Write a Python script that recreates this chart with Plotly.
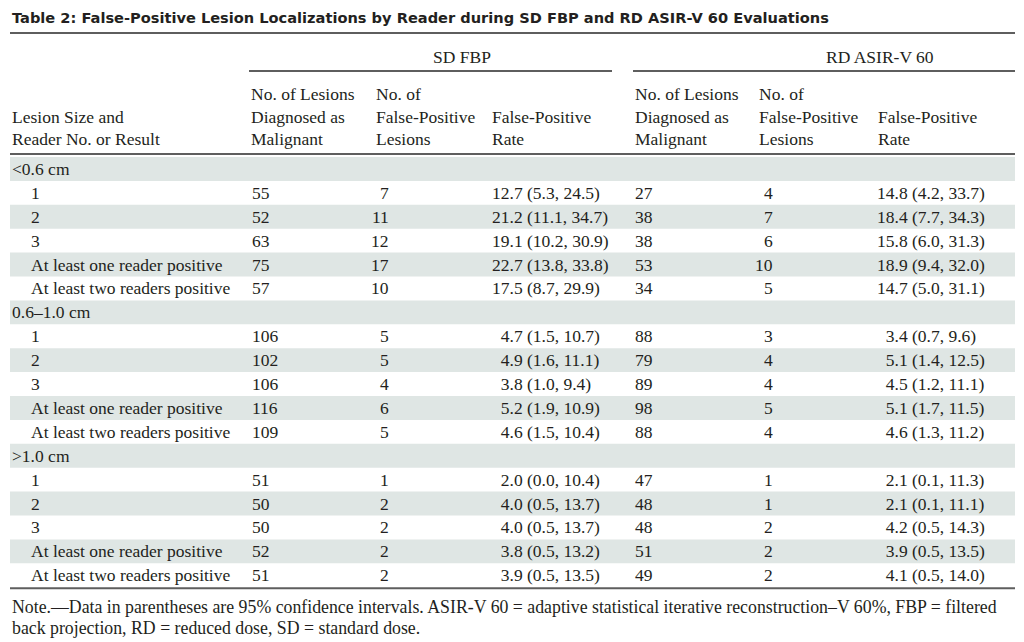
import plotly.graph_objects as go

# ---------------- data ----------------
title = "Table 2: False-Positive Lesion Localizations by Reader during SD FBP and RD ASIR-V 60 Evaluations"
group_labels = ["SD FBP", "RD ASIR-V 60"]
first_col_header = ["Lesion Size and", "Reader No. or Result"]
sub_headers = [
    ["No. of Lesions", "Diagnosed as", "Malignant"],
    ["No. of", "False-Positive", "Lesions"],
    ["False-Positive", "Rate"],
]
sections = ["<0.6 cm", "0.6–1.0 cm", ">1.0 cm"]
row_labels = ["1", "2", "3", "At least one reader positive", "At least two readers positive"]

sd_malignant = [[55, 52, 63, 75, 57], [106, 102, 106, 116, 109], [51, 50, 50, 52, 51]]
sd_fp = [[7, 11, 12, 17, 10], [5, 5, 4, 6, 5], [1, 2, 2, 2, 2]]
sd_rate = [
    ["12.7 (5.3, 24.5)", "21.2 (11.1, 34.7)", "19.1 (10.2, 30.9)", "22.7 (13.8, 33.8)", "17.5 (8.7, 29.9)"],
    ["4.7 (1.5, 10.7)", "4.9 (1.6, 11.1)", "3.8 (1.0, 9.4)", "5.2 (1.9, 10.9)", "4.6 (1.5, 10.4)"],
    ["2.0 (0.0, 10.4)", "4.0 (0.5, 13.7)", "4.0 (0.5, 13.7)", "3.8 (0.5, 13.2)", "3.9 (0.5, 13.5)"],
]
rd_malignant = [[27, 38, 38, 53, 34], [88, 79, 89, 98, 88], [47, 48, 48, 51, 49]]
rd_fp = [[4, 7, 6, 10, 5], [3, 4, 4, 5, 4], [1, 1, 2, 2, 2]]
rd_rate = [
    ["14.8 (4.2, 33.7)", "18.4 (7.7, 34.3)", "15.8 (6.0, 31.3)", "18.9 (9.4, 32.0)", "14.7 (5.0, 31.1)"],
    ["3.4 (0.7, 9.6)", "5.1 (1.4, 12.5)", "4.5 (1.2, 11.1)", "5.1 (1.7, 11.5)", "4.6 (1.3, 11.2)"],
    ["2.1 (0.1, 11.3)", "2.1 (0.1, 11.1)", "4.2 (0.5, 14.3)", "3.9 (0.5, 13.5)", "4.1 (0.5, 14.0)"],
]
note_lines = [
    "Note.—Data in parentheses are 95% confidence intervals. ASIR-V 60 = adaptive statistical iterative reconstruction–V 60%, FBP = filtered",
    "back projection, RD = reduced dose, SD = standard dose.",
]

# ---------------- layout / style ----------------
W, H = 1024, 642
LEFT, RIGHT = 10, 1015
SERIF = "Liberation Serif"
TXT = "#231f20"
LINE = "#5e5e5e"
STRIPE = "#dfe6e4"
FS = 17.5

col_x = {"lab": 10, "sdm": 250, "sdf": 391, "sdr": 490, "rdm": 633, "rdf": 775, "rdr": 875}
hdr_x = [249, 374, 490, 633, 757, 876]
group_span = [(249, 612), (633, 1015)]

body_top = 157
pitch = 23.9

shapes = []
annotations = []


def hline(x0, x1, y, w=2):
    shapes.append(dict(type="line", x0=x0, x1=x1, y0=y, y1=y, xref="x", yref="y",
                       line=dict(color=LINE, width=w)))


def text(x, y, s, anchor="left", size=FS, family=SERIF, bold=False, color=TXT):
    annotations.append(dict(x=x, y=y, xref="x", yref="y", text=("<b>%s</b>" % s) if bold else s,
                            showarrow=False, xanchor=anchor, yanchor="middle",
                            font=dict(family=family, size=size, color=color)))


def pad_rate(s):
    # decimal alignment: pad single-digit leading values with a figure space
    lead = s.split(".")[0]
    return ("\u2007" if len(lead) == 1 else "") + s


# title
text(LEFT, 17, title, size=14.6, family="DejaVu Sans", bold=True, color="#231f20")
hline(LEFT, RIGHT, 33, 2)

# group headers
for (x0, x1), g in zip(group_span, group_labels):
    text((x0 + x1) / 2, 57, g)
    hline(x0, x1, 71, 2)

# column headers (bottom aligned)
hdr_lines_y = [94, 117, 139]
text(col_x["lab"], hdr_lines_y[1], first_col_header[0])
text(col_x["lab"], hdr_lines_y[2], first_col_header[1])
for gi in range(2):
    for ci, lines in enumerate(sub_headers):
        x = hdr_x[gi * 3 + ci]
        ys = hdr_lines_y[-len(lines):]
        for ln, y in zip(lines, ys):
            text(x, y, ln)
hline(LEFT, RIGHT, 154, 2)

# body
r = 0
for si, sec in enumerate(sections):
    rows = [("sec", sec, None)] + [("row", lab, i) for i, lab in enumerate(row_labels)]
    for kind, lab, i in rows:
        y0 = body_top + r * pitch
        yc = y0 + pitch / 2
        if kind == "sec" or i % 2 == 1:
            shapes.append(dict(type="rect", x0=LEFT, x1=RIGHT, y0=y0, y1=y0 + pitch,
                               xref="x", yref="y", fillcolor=STRIPE, line=dict(width=0), layer="below"))
        if kind == "sec":
            text(col_x["lab"], yc, lab.replace("<", "&lt;").replace(">", "&gt;"))
        else:
            text(col_x["lab"] + 19, yc, lab)
            text(col_x["sdm"], yc, str(sd_malignant[si][i]))
            text(col_x["sdf"], yc, str(sd_fp[si][i]), anchor="right")
            text(col_x["sdr"], yc, pad_rate(sd_rate[si][i]))
            text(col_x["rdm"], yc, str(rd_malignant[si][i]))
            text(col_x["rdf"], yc, str(rd_fp[si][i]), anchor="right")
            text(col_x["rdr"], yc, pad_rate(rd_rate[si][i]))
        r += 1

hline(LEFT, RIGHT, body_top + r * pitch + 1, 2)

# note
for k, ln in enumerate(note_lines):
    text(LEFT, 607 + k * 21, ln, size=17.8)

fig = go.Figure()
fig.update_layout(
    width=W, height=H, margin=dict(l=0, r=0, t=0, b=0),
    paper_bgcolor="white", plot_bgcolor="white",
    xaxis=dict(range=[0, W], visible=False, fixedrange=True),
    yaxis=dict(range=[H, 0], visible=False, fixedrange=True),
    shapes=shapes, annotations=annotations, showlegend=False,
)
fig.write_html("out.html", config={"displayModeBar": False},
               post_script="document.body.style.margin='0';document.body.style.overflow='hidden';")
